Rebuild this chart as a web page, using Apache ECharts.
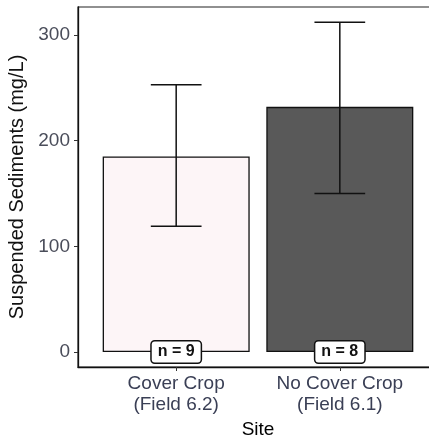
<!DOCTYPE html>
<html lang="en">
  <head>
    <meta charset="UTF-8" />
    <title>Suspended Sediments by Site</title>
    <script src="https://cdn.jsdelivr.net/npm/echarts@6/dist/echarts.min.js"></script>
    <style>
      html, body { margin: 0; padding: 0; background: #fff; }
      #chart { width: 429px; height: 441px; }
    </style>
  </head>
  <body>
    <div id="chart"></div>
    <script>
      // data
      const categories = ["Cover Crop\n(Field 6.2)", "No Cover Crop\n(Field 6.1)"];
      const means = [185, 232];
      const lower = [119, 150];
      const upper = [253, 312];
      const counts = [9, 8];
      const yTicks = [0, 100, 200, 300];
      const fills = ["#fdf5f7", "#595959"];

      const font = "Liberation Sans, Arial, Helvetica, sans-serif";
      const xPos = categories.map((c, i) => i + 1);

      const chart = echarts.init(document.getElementById("chart"));

      chart.setOption({
        animation: false,
        grid: {
          left: 78, right: -9, top: 7, bottom: 74,
          outerBoundsMode: "none",
          show: true, borderColor: "#222", borderWidth: 1.2
        },
        xAxis: {
          type: "value", min: 0.4, max: 2.6,
          name: "Site", nameLocation: "middle", nameGap: 50,
          nameTextStyle: { fontFamily: font, fontSize: 19, color: "#000" },
          axisLine: { show: true, onZero: false, lineStyle: { color: "#111", width: 1.3 } },
          axisTick: { show: true, length: 4, customValues: xPos, lineStyle: { color: "#333" } },
          axisLabel: {
            customValues: xPos, margin: 6,
            formatter: (v) => categories[Math.round(v) - 1] || "",
            fontFamily: font, fontSize: 19, lineHeight: 21, color: "#3a3f55"
          },
          splitLine: { show: false }
        },
        yAxis: {
          type: "value", min: -14.2, max: 326.5,
          name: "Suspended Sediments (mg/L)", nameLocation: "middle", nameGap: 45, nameRotate: 90,
          nameTextStyle: { fontFamily: font, fontSize: 20, color: "#111" },
          axisLine: { show: true, onZero: false, lineStyle: { color: "#111", width: 1.3 } },
          axisTick: { show: true, length: 4, customValues: yTicks, lineStyle: { color: "#333" } },
          axisLabel: {
            customValues: yTicks, margin: 8,
            fontFamily: font, fontSize: 19, color: "#4a4d5a"
          },
          splitLine: { show: false }
        },
        series: [
          {
            type: "bar",
            barWidth: 147,
            data: means.map((m, i) => ({ value: [xPos[i], m], itemStyle: { color: fills[i] } })),
            itemStyle: { borderColor: "#111", borderWidth: 1.3 }
          },
          {
            type: "custom",
            data: means.map((m, i) => [xPos[i], lower[i], upper[i]]),
            renderItem: function (params, api) {
              const x = api.value(0);
              const lo = api.coord([x, api.value(1)]);
              const hi = api.coord([x, api.value(2)]);
              const half = api.size([0.155, 0])[0];
              const st = { stroke: "#111", lineWidth: 1.5 };
              return {
                type: "group",
                children: [
                  { type: "line", shape: { x1: lo[0], y1: lo[1], x2: hi[0], y2: hi[1] }, style: st },
                  { type: "line", shape: { x1: hi[0] - half, y1: hi[1], x2: hi[0] + half, y2: hi[1] }, style: st },
                  { type: "line", shape: { x1: lo[0] - half, y1: lo[1], x2: lo[0] + half, y2: lo[1] }, style: st }
                ]
              };
            },
            z: 3
          },
          {
            type: "custom",
            data: counts.map((n, i) => [xPos[i], 0, n]),
            renderItem: function (params, api) {
              const p = api.coord([api.value(0), api.value(1)]);
              return {
                type: "text",
                x: p[0], y: p[1],
                style: {
                  text: "n = " + api.value(2),
                  fontFamily: font, fontSize: 16, fontWeight: "bold",
                  fill: "#111", align: "center", verticalAlign: "middle",
                  backgroundColor: "#fff", borderColor: "#111", borderWidth: 1.5,
                  borderRadius: 3, padding: [3, 6, 2, 6]
                }
              };
            },
            z: 4
          }
        ]
      });
    </script>
  </body>
</html>
